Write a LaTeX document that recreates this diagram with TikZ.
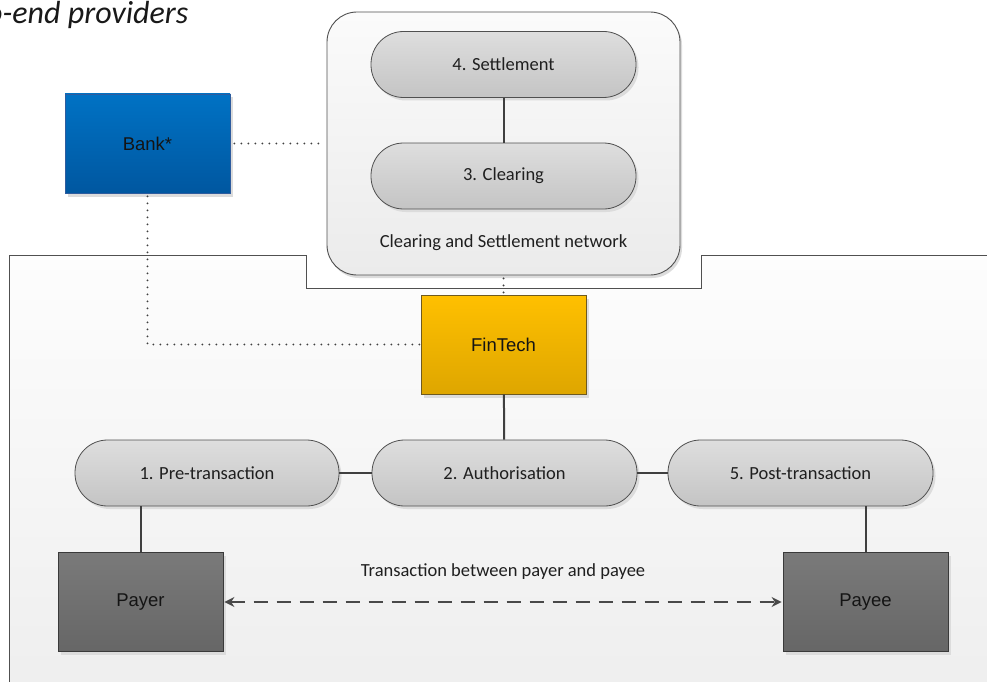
\documentclass[tikz,border=0pt]{standalone}
\usepackage{fontspec}
\setmainfont{Carlito}
\newfontfamily\boxfont{Liberation Sans}
\usetikzlibrary{arrows.meta,shadows}

\definecolor{edge}{HTML}{505050}
\definecolor{wire}{HTML}{3F3F3F}
\definecolor{pillTop}{HTML}{DEDEDE}
\definecolor{pillBot}{HTML}{C4C4C4}
\definecolor{netTop}{HTML}{FBFBFB}
\definecolor{netBot}{HTML}{EBEBEB}
\definecolor{zoneTop}{HTML}{FDFDFD}
\definecolor{zoneBot}{HTML}{EEEEEE}
\definecolor{bankTop}{HTML}{0072C4}
\definecolor{bankBot}{HTML}{0057A0}
\definecolor{bankEdge}{HTML}{2E5C9E}
\definecolor{finTop}{HTML}{FFC000}
\definecolor{finBot}{HTML}{DEA600}
\definecolor{finEdge}{HTML}{6E5A20}
\definecolor{partyTop}{HTML}{7A7A7A}
\definecolor{partyBot}{HTML}{666666}
\definecolor{partyEdge}{HTML}{3A3A3A}
\definecolor{shade}{HTML}{DCDCDC}

\begin{document}
\begin{tikzpicture}[x=1pt,y=-1pt,
  lbl/.style={font=\fontsize{18.5}{22}\selectfont, text=black!88, inner sep=0pt},
  pill/.style={draw=edge, line width=0.8pt, rounded corners=32.5pt,
    minimum width=265pt, minimum height=66pt, inner sep=0pt,
    top color=pillTop, bottom color=pillBot,
    font=\fontsize{18.5}{22}\selectfont, text=black!88,
    drop shadow={shadow xshift=2.5pt, shadow yshift=-3pt, fill=shade, opacity=1}},
  actor/.style={draw=#1Edge, line width=0.8pt, minimum width=165pt, minimum height=99pt,
    top color=#1Top, bottom color=#1Bot, inner sep=0pt,
    font=\boxfont\fontsize{18.5}{21}\selectfont, text=black!92,
    drop shadow={shadow xshift=3pt, shadow yshift=-3.5pt, fill=shade, opacity=1}},
  conn/.style={draw=wire, line width=2pt},
  dotlink/.style={draw=wire, line width=2.1pt, line cap=round, dash pattern=on 0pt off 7pt},
  dashlink/.style={draw=wire!95, line width=2.6pt, dash pattern=on 14pt off 9pt,
    {Stealth[length=10pt,width=10pt]}-{Stealth[length=10pt,width=10pt]}, shorten <=1pt, shorten >=1pt}
]
\path[use as bounding box, clip] (0,0) rectangle (987,682);
\fill[white] (0,0) rectangle (987,682);

% heading, running off the top left corner
\node[anchor=base west, inner sep=0pt, font=\fontsize{32}{36}\selectfont\itshape, text=black!90]
  (heading) at (-14,24) {o-end providers};

% end-user zone with its notch
\fill[top color=zoneTop, bottom color=zoneBot]
  (9,700) -- (9,255) -- (306,255) -- (306,288) -- (701,288) -- (701,255)
  -- (1000,255) -- (1000,700) -- cycle;
\draw[draw=edge, line width=0.9pt]
  (9,700) -- (9,255) -- (306,255) -- (306,288) -- (701,288) -- (701,255) -- (1000,255);

% clearing and settlement network
\node[draw=edge, line width=0.9pt, rounded corners=30pt, minimum width=353pt, minimum height=263pt,
  top color=netTop, bottom color=netBot, inner sep=0pt,
  drop shadow={shadow xshift=2pt, shadow yshift=-3pt, fill=shade, opacity=1}]
  (net) at (503.5,143.5) {};
\node[pill] (settle) at (503.5,64.5) {4. Settlement};
\node[pill] (clear) at (503.5,176) {3. Clearing};
\node[lbl] (netlbl) at (503.5,243) {Clearing and Settlement network};

% parties
\node[actor=bank] (bank) at (147.5,143.5) {Bank*};
\node[actor=fin] (fin) at (503.5,344.5) {FinTech};
\node[actor=party] (payer) at (140.5,602) {Payer};
\node[actor=party] (payee) at (865.5,602) {Payee};

% transaction stages
\node[pill, minimum width=264pt] (pre) at (207,473) {1. Pre-transaction};
\node[pill] (auth) at (504.5,473) {2. Authorisation};
\node[pill] (post) at (800.5,473) {5. Post-transaction};

\node[lbl] (txn) at (503,572) {Transaction between payer and payee};

% connectors
\draw[conn] (settle) -- (clear);
\draw[conn] (fin) -- (auth);
\draw[conn] (pre) -- (auth);
\draw[conn] (auth) -- (post);
\draw[conn] (payer.north) -- (payer.north |- pre.south);
\draw[conn] (payee.north) -- (payee.north |- post.south);

\draw[dotlink, shorten <=4pt, shorten >=2pt] (bank.east) -- (net.west);
\draw[dotlink, shorten <=3pt] (bank.south) |- (fin.west);
\draw[dotlink, shorten <=3pt] (net.south) -- (fin.north);

\draw[dashlink] (payer.east) -- (payee.west);
\end{tikzpicture}
\end{document}
